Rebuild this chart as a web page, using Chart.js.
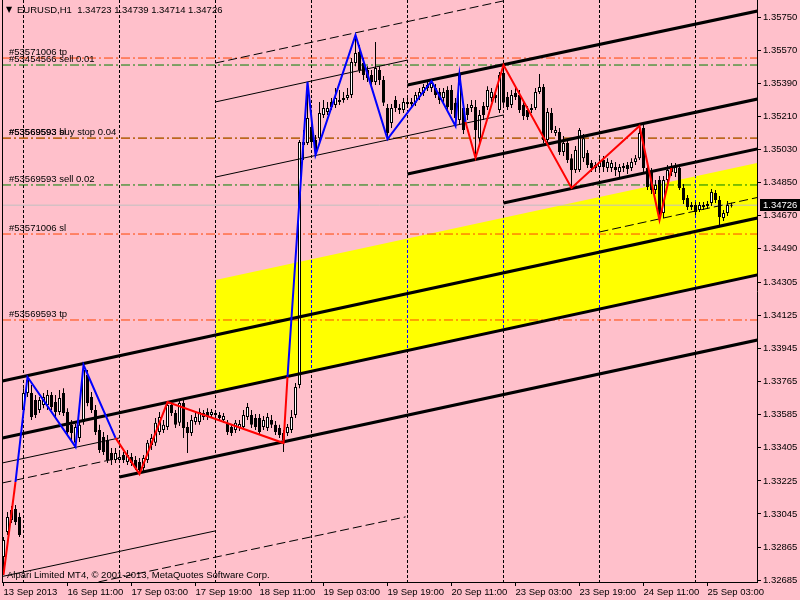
<!DOCTYPE html>
<html>
<head>
<meta charset="utf-8">
<script src="https://cdn.jsdelivr.net/npm/chart.js@4.4.0/dist/chart.umd.min.js"></script>
<style>
  html, body { margin: 0; padding: 0; background: #ffc0cb; }
  #chart { display: block; }
</style>
</head>
<body>
<canvas id="chart" width="800" height="600"></canvas>
<script>
// EURUSD H1 bars, oldest first (bar index = position in array)
const opens = [
  1.32811,1.32947,1.33012,1.33072,1.33029,1.33611,1.33704,1.33704,1.33665,1.33611,
  1.33638,1.33638,1.33693,1.33654,1.33600,1.33704,1.33600,1.33530,1.33432,1.33458,
  1.33546,1.33802,1.33682,1.33611,1.33502,1.33464,1.33448,1.33377,1.33339,1.33339,
  1.33366,1.33328,1.33355,1.33339,1.33328,1.33295,1.33339,1.33420,1.33432,1.33491,
  1.33502,1.33519,1.33638,1.33595,1.33541,1.33649,1.33519,1.33486,1.33546,1.33546,
  1.33573,1.33600,1.33584,1.33595,1.33584,1.33557,1.33541,1.33519,1.33502,1.33513,
  1.33519,1.33573,1.33584,1.33567,1.33567,1.33519,1.33513,1.33557,1.33530,1.33513,
  1.33486,1.33486,1.33502,1.33584,1.33747,1.35070,1.35065,1.35152,1.35081,1.35091,
  1.35217,1.35233,1.35288,1.35272,1.35288,1.35299,1.35310,1.35326,1.35500,1.35560,
  1.35500,1.35462,1.35435,1.35396,1.35462,1.35407,1.35255,1.35174,1.35299,1.35255,
  1.35244,1.35277,1.35288,1.35283,1.35315,1.35337,1.35364,1.35364,1.35364,1.35342,
  1.35310,1.35353,1.35353,1.35283,1.35190,1.35255,1.35255,1.35255,1.35261,1.35091,
  1.35266,1.35261,1.35310,1.35326,1.35244,1.35446,1.35315,1.35272,1.35337,1.35326,
  1.35272,1.35244,1.35244,1.35255,1.35342,1.35369,1.35081,1.35228,1.35119,1.35124,
  1.35016,1.35065,1.34982,1.34917,1.34917,1.34982,1.35010,1.34956,1.34945,1.34934,
  1.34972,1.34928,1.34928,1.34934,1.34907,1.34939,1.34945,1.34928,1.34961,1.34982,
  1.35146,1.34928,1.34907,1.34809,1.34863,1.34684,1.34863,1.34907,1.34901,1.34928,
  1.34820,1.34765,1.34727,1.34727,1.34700,1.34716,1.34721,1.34738,1.34792,1.34754,
  1.34656,1.34684,1.34723
];
const highs = [
  1.32920,1.33056,1.33088,1.33094,1.33051,1.33730,1.33802,1.33747,1.33693,1.33682,
  1.33704,1.33720,1.33709,1.33693,1.33720,1.33730,1.33621,1.33557,1.33535,1.33557,
  1.33856,1.33829,1.33709,1.33638,1.33530,1.33491,1.33475,1.33404,1.33404,1.33382,
  1.33382,1.33393,1.33377,1.33361,1.33350,1.33366,1.33448,1.33480,1.33567,1.33600,
  1.33557,1.33654,1.33654,1.33611,1.33665,1.33665,1.33546,1.33584,1.33600,1.33621,
  1.33611,1.33621,1.33616,1.33611,1.33600,1.33595,1.33557,1.33535,1.33557,1.33557,
  1.33611,1.33649,1.33611,1.33589,1.33589,1.33578,1.33595,1.33584,1.33551,1.33530,
  1.33502,1.33535,1.33611,1.33758,1.35081,1.35135,1.35396,1.35200,1.35108,1.35288,
  1.35299,1.35288,1.35310,1.35364,1.35353,1.35342,1.35364,1.35527,1.35653,1.35598,
  1.35527,1.35483,1.35462,1.35614,1.35483,1.35429,1.35277,1.35277,1.35320,1.35277,
  1.35310,1.35310,1.35310,1.35342,1.35364,1.35386,1.35402,1.35407,1.35386,1.35364,
  1.35364,1.35374,1.35380,1.35310,1.35451,1.35277,1.35277,1.35299,1.35299,1.35244,
  1.35288,1.35374,1.35364,1.35353,1.35451,1.35489,1.35342,1.35353,1.35364,1.35353,
  1.35299,1.35266,1.35277,1.35364,1.35440,1.35386,1.35255,1.35255,1.35157,1.35146,
  1.35103,1.35081,1.35004,1.35048,1.35146,1.35114,1.35026,1.34972,1.34961,1.34982,
  1.34994,1.34982,1.34972,1.34961,1.34950,1.34956,1.34961,1.34982,1.34999,1.35162,
  1.35162,1.34945,1.34928,1.34863,1.34885,1.34885,1.34945,1.34956,1.34956,1.34950,
  1.34841,1.34781,1.34743,1.34743,1.34743,1.34743,1.34749,1.34814,1.34809,1.34776,
  1.34700,1.34749,1.34739
];
const lows = [
  1.32713,1.32931,1.32996,1.32985,1.32920,1.33573,1.33682,1.33557,1.33567,1.33595,
  1.33621,1.33611,1.33611,1.33567,1.33584,1.33578,1.33475,1.33448,1.33410,1.33437,
  1.33530,1.33632,1.33595,1.33475,1.33377,1.33366,1.33323,1.33312,1.33323,1.33328,
  1.33323,1.33312,1.33306,1.33284,1.33262,1.33279,1.33323,1.33393,1.33415,1.33475,
  1.33486,1.33502,1.33578,1.33513,1.33524,1.33458,1.33377,1.33469,1.33530,1.33530,
  1.33557,1.33557,1.33567,1.33567,1.33551,1.33541,1.33475,1.33469,1.33486,1.33497,
  1.33502,1.33557,1.33513,1.33502,1.33475,1.33502,1.33497,1.33513,1.33475,1.33458,
  1.33382,1.33469,1.33486,1.33567,1.33730,1.34972,1.35054,1.35054,1.34999,1.35070,
  1.35200,1.35217,1.35244,1.35255,1.35272,1.35283,1.35299,1.35310,1.35483,1.35446,
  1.35407,1.35396,1.35374,1.35380,1.35380,1.35266,1.35086,1.35146,1.35233,1.35222,
  1.35228,1.35255,1.35255,1.35266,1.35299,1.35320,1.35348,1.35342,1.35309,1.35277,
  1.35288,1.35244,1.35222,1.35157,1.35168,1.35114,1.35190,1.35233,1.34982,1.35054,
  1.35190,1.35244,1.35288,1.35283,1.35228,1.35266,1.35244,1.35255,1.35299,1.35228,
  1.35190,1.35190,1.35228,1.35244,1.35331,1.35065,1.35065,1.35119,1.35103,1.34999,
  1.34994,1.34956,1.34820,1.34901,1.34907,1.34961,1.34928,1.34907,1.34907,1.34917,
  1.34907,1.34907,1.34907,1.34885,1.34874,1.34907,1.34896,1.34912,1.34945,1.34972,
  1.34907,1.34809,1.34787,1.34787,1.34645,1.34656,1.34841,1.34885,1.34880,1.34809,
  1.34732,1.34700,1.34700,1.34673,1.34689,1.34700,1.34705,1.34721,1.34738,1.34618,
  1.34640,1.34667,1.34714
];
const closes = [
  1.32903,1.33029,1.33067,1.33001,1.32931,1.33704,1.33774,1.33573,1.33584,1.33665,
  1.33682,1.33693,1.33627,1.33600,1.33676,1.33595,1.33491,1.33486,1.33519,1.33530,
  1.33829,1.33649,1.33611,1.33491,1.33393,1.33382,1.33339,1.33339,1.33377,1.33355,
  1.33339,1.33366,1.33323,1.33295,1.33284,1.33350,1.33432,1.33458,1.33541,1.33573,
  1.33530,1.33638,1.33595,1.33530,1.33649,1.33513,1.33486,1.33557,1.33573,1.33600,
  1.33595,1.33573,1.33600,1.33584,1.33567,1.33578,1.33491,1.33486,1.33541,1.33535,
  1.33584,1.33627,1.33530,1.33519,1.33491,1.33557,1.33573,1.33530,1.33491,1.33475,
  1.33448,1.33519,1.33573,1.33736,1.35070,1.35054,1.35200,1.35070,1.35026,1.35228,
  1.35255,1.35255,1.35261,1.35310,1.35299,1.35310,1.35326,1.35505,1.35555,1.35462,
  1.35435,1.35418,1.35396,1.35473,1.35407,1.35283,1.35119,1.35255,1.35255,1.35244,
  1.35288,1.35288,1.35277,1.35326,1.35342,1.35369,1.35380,1.35391,1.35326,1.35299,
  1.35342,1.35261,1.35244,1.35200,1.35435,1.35135,1.35217,1.35272,1.35135,1.35217,
  1.35217,1.35353,1.35342,1.35310,1.35435,1.35283,1.35261,1.35326,1.35315,1.35244,
  1.35211,1.35206,1.35255,1.35342,1.35369,1.35081,1.35233,1.35135,1.35135,1.35016,
  1.35065,1.34972,1.34917,1.35026,1.35135,1.35091,1.34945,1.34928,1.34928,1.34961,
  1.34934,1.34961,1.34956,1.34917,1.34934,1.34928,1.34923,1.34961,1.34982,1.35119,
  1.34928,1.34825,1.34809,1.34836,1.34684,1.34863,1.34917,1.34934,1.34934,1.34820,
  1.34754,1.34716,1.34716,1.34689,1.34727,1.34727,1.34732,1.34798,1.34754,1.34662,
  1.34684,1.34727,1.34726
];

// axes
const xTickIdx = [0, 16, 32, 48, 64, 80, 96, 112, 128, 144, 160, 176];
const xTickLabels = ["13 Sep 2013", "16 Sep 11:00", "17 Sep 03:00", "17 Sep 19:00",
  "18 Sep 11:00", "19 Sep 03:00", "19 Sep 19:00", "20 Sep 11:00", "23 Sep 03:00",
  "23 Sep 19:00", "24 Sep 11:00", "25 Sep 03:00"];
const dayGridIdx = [5, 29, 53, 77, 101, 125, 149, 173];
const yTickVals = [1.35750, 1.35570, 1.35390, 1.35210, 1.35030, 1.34850, 1.34670, 1.34490,
  1.34305, 1.34125, 1.33945, 1.33765, 1.33585, 1.33405, 1.33225, 1.33045, 1.32865, 1.32685];
const xMin = -0.375, xMax = 188.375;
const yMin = 1.326746, yMax = 1.35843;

// zigzag legs [bar, price]
const blueLegs = [
  [[3, 1.33219], [6, 1.33791], [18, 1.33410], [20, 1.33856], [28, 1.33459]],
  [[71, 1.33791], [76, 1.35397], [78, 1.34999], [88, 1.35652], [96, 1.35086],
   [107, 1.35402], [113, 1.35157], [114, 1.35435], [115.5, 1.35179]]
];
const redLegs = [
  [[0, 1.32713], [3, 1.33219]],
  [[28, 1.33459], [34, 1.33262], [41, 1.33654], [70, 1.33431], [71, 1.33791]],
  [[115.5, 1.35179], [118, 1.34983], [125, 1.35489], [142, 1.34820], [159, 1.35157],
   [164, 1.34645], [167, 1.34928]]
];

// channel lines [[bar, price], [bar, price]]
const thickLines = [
  [[101, 1.35380], [188.5, 1.35783]],
  [[101, 1.34896], [188.5, 1.35304]],
  [[125, 1.34738], [188.5, 1.35032]],
  [[-0.25, 1.33769], [188.5, 1.34656]],
  [[-0.25, 1.33459], [188.5, 1.34346]],
  [[29, 1.33246], [188.5, 1.33992]]
];
const thinLines = [
  [[53, 1.34879], [125, 1.35217]],
  [[53, 1.35288], [101, 1.35516]],
  [[-0.25, 1.33323], [29, 1.33459]],
  [[-0.25, 1.32705], [53, 1.32953]]
];
const dashedLines = [
  [[-0.25, 1.33214], [29, 1.33350]],
  [[53, 1.35500], [125, 1.35838]],
  [[23.75, 1.32675], [100.5, 1.33029]],
  [[149, 1.34580], [188.5, 1.34768]]
];
const yellowTop = [[53, 1.34319], [188.5, 1.34956]];
const yellowBottom = [[53, 1.33709], [188.5, 1.34346]];

// trade levels
const orderPrices = [1.35527, 1.35489, 1.35091, 1.35091, 1.34836, 1.34569, 1.34101];
const orderNames = ["#53571006 tp", "#53454566 sell 0.01", "#53569593 buy stop 0.04",
  "#53569593 sl", "#53569593 sell 0.02", "#53571006 sl", "#53569593 tp"];
const orderKinds = ["stop", "entry", "entry", "stop", "entry", "stop", "stop"];
const kindColor = { stop: "#ff4500", entry: "#008000" };

const last = closes.length - 1;

Chart.defaults.font.family = '"Liberation Sans", Arial, sans-serif';
Chart.defaults.font.size = 9.5;
Chart.defaults.color = "#000";

function lineSet(points, color, width, dash, order) {
  return {
    type: "line",
    data: points.map((p) => ({ x: p[0], y: p[1] })),
    borderColor: color,
    borderWidth: width,
    borderDash: dash,
    pointRadius: 0,
    tension: 0,
    fill: false,
    order: order,
    xAxisID: "x",
    yAxisID: "y",
  };
}

function alignPx(v) {
  return Math.round(v - 0.5) + 0.5;
}

const datasets = [];
// yellow band, drawn first
datasets.push(Object.assign(lineSet(yellowTop, "rgba(0,0,0,0)", 1, [], 100), {
  label: "yellowTop", fill: "+1", backgroundColor: "#ffff00",
}));
datasets.push(lineSet(yellowBottom, "rgba(0,0,0,0)", 1, [], 99));

orderPrices.forEach((p, k) => {
  datasets.push(lineSet([[xMin, p], [xMax, p]], kindColor[orderKinds[k]], 1,
    [9, 3, 2, 3], orderKinds[k] === "entry" ? 91 : 90));
});
datasets.push(lineSet([[xMin, closes[last]], [xMax, closes[last]]], "#c0c0c0", 1, [], 89));

datasets.push({
  type: "bar",
  data: lows.map((l, i) => ({ x: i, y: [l, highs[i]] })),
  backgroundColor: "#000",
  borderWidth: 0,
  barThickness: 1,
  grouped: false,
  inflateAmount: 0,
  order: 45,
  xAxisID: "x",
  yAxisID: "y",
});
datasets.push({
  type: "bar",
  data: opens.map((o, i) => ({ x: i, y: [o, closes[i]] })),
  backgroundColor: opens.map((o, i) => (closes[i] >= o ? "#ffffff" : "#000000")),
  borderColor: "#000",
  borderWidth: 1,
  borderSkipped: false,
  barThickness: 3,
  minBarLength: 1,
  grouped: false,
  inflateAmount: 0,
  order: 40,
  xAxisID: "x",
  yAxisID: "y",
});

thinLines.forEach((l) => datasets.push(lineSet(l, "#000", 1, [], 30)));
dashedLines.forEach((l) => datasets.push(lineSet(l, "#000", 1, [9, 4], 30)));
thickLines.forEach((l) => datasets.push(lineSet(l, "#000", 3, [], 20)));
redLegs.forEach((l) => datasets.push(lineSet(l, "#ff0000", 2, [], 12)));
blueLegs.forEach((l) => datasets.push(lineSet(l, "#0000ff", 2, [], 10)));

const overlay = {
  id: "overlay",
  afterDatasetDraw(chart, args) {
    if (chart.data.datasets[args.index].label !== "yellowTop") return;
    const { ctx, chartArea: a, scales: { x, y } } = chart;
    const poly = yellowTop.concat(yellowBottom.slice().reverse());
    ctx.save();
    ctx.beginPath();
    ctx.rect(a.left, a.top, a.width, a.height);
    ctx.clip();
    ctx.beginPath();
    poly.forEach((p, k) => {
      const px = x.getPixelForValue(p[0]);
      const py = y.getPixelForValue(p[1]);
      if (k) ctx.lineTo(px, py); else ctx.moveTo(px, py);
    });
    ctx.closePath();
    ctx.clip();
    ctx.strokeStyle = "#0000ff";
    ctx.lineWidth = 1;
    ctx.setLineDash([3, 2]);
    dayGridIdx.forEach((v) => {
      const px = alignPx(x.getPixelForValue(v));
      ctx.beginPath();
      ctx.moveTo(px, a.top);
      ctx.lineTo(px, a.bottom);
      ctx.stroke();
    });
    ctx.restore();
  },
  afterDraw(chart) {
    const { ctx, chartArea: a, scales: { y } } = chart;
    ctx.save();
    // left frame line
    ctx.strokeStyle = "#000";
    ctx.lineWidth = 1;
    ctx.beginPath();
    ctx.moveTo(a.left + 0.5, a.top);
    ctx.lineTo(a.left + 0.5, a.bottom);
    ctx.stroke();

    ctx.font = '9.5px "Liberation Sans", Arial, sans-serif';
    ctx.fillStyle = "#000";
    ctx.textBaseline = "bottom";
    orderNames.forEach((t, k) => {
      ctx.fillText(t, a.left + 7, Math.round(y.getPixelForValue(orderPrices[k])) - 1);
    });

    // symbol header
    ctx.textBaseline = "middle";
    const head = "EURUSD,H1  " + [opens[last], highs[last], lows[last], closes[last]]
      .map((v) => v.toFixed(5)).join(" ");
    ctx.fillText(head, a.left + 15, a.top + 10);
    ctx.font = '8px "DejaVu Sans", sans-serif';
    ctx.fillText("\u25BC", a.left + 4, a.top + 10);

    ctx.font = '9.5px "Liberation Sans", Arial, sans-serif';
    ctx.fillText("Alpari Limited MT4, \u00A9 2001-2013, MetaQuotes Software Corp.",
      a.left + 5, a.bottom - 7);

    // current price box
    const py = Math.round(y.getPixelForValue(closes[last]));
    ctx.fillStyle = "#000";
    ctx.fillRect(a.right + 3, py - 6, 43, 12);
    ctx.fillStyle = "#fff";
    ctx.fillText(closes[last].toFixed(5), a.right + 6, py);
    ctx.restore();
  },
};

new Chart(document.getElementById("chart"), {
  type: "bar",
  data: { datasets: datasets },
  options: {
    responsive: false,
    animation: false,
    events: [],
    layout: { autoPadding: false, padding: { left: 2, top: 0, right: 0, bottom: 0 } },
    plugins: { legend: { display: false }, tooltip: { enabled: false } },
    scales: {
      x: {
        type: "linear",
        position: "bottom",
        min: xMin,
        max: xMax,
        offset: false,
        grid: { drawOnChartArea: false, drawTicks: true, tickLength: 4, tickColor: "#000", offset: false },
        border: { display: true, color: "#000", width: 1 },
        ticks: {
          autoSkip: false,
          maxRotation: 0,
          minRotation: 0,
          align: "start",
          padding: 1,
          color: "#000",
          callback: (v, i) => xTickLabels[i],
        },
        afterBuildTicks: (s) => { s.ticks = xTickIdx.map((v) => ({ value: v })); },
        afterFit: (s) => { s.height = 18; s.paddingLeft = 0; s.paddingRight = 0; },
      },
      xg: {
        type: "linear",
        position: "top",
        min: xMin,
        max: xMax,
        offset: false,
        grid: { drawOnChartArea: true, drawTicks: false, color: "#000", lineWidth: 1, offset: false },
        border: { display: false, dash: [3, 2] },
        ticks: { display: false },
        afterBuildTicks: (s) => { s.ticks = dayGridIdx.map((v) => ({ value: v })); },
        afterFit: (s) => { s.height = 0; s.paddingLeft = 0; s.paddingRight = 0; },
      },
      y: {
        type: "linear",
        position: "right",
        min: yMin,
        max: yMax,
        beginAtZero: false,
        grid: { drawOnChartArea: false, drawTicks: true, tickLength: 4, tickColor: "#000" },
        border: { display: true, color: "#000", width: 1 },
        ticks: { padding: 2, color: "#000", callback: (v) => v.toFixed(5) },
        afterBuildTicks: (s) => { s.ticks = yTickVals.map((v) => ({ value: v })); },
        afterFit: (s) => { s.width = 43; s.paddingTop = 0; s.paddingBottom = 0; },
      },
    },
  },
  plugins: [overlay],
});
</script>
</body>
</html>
